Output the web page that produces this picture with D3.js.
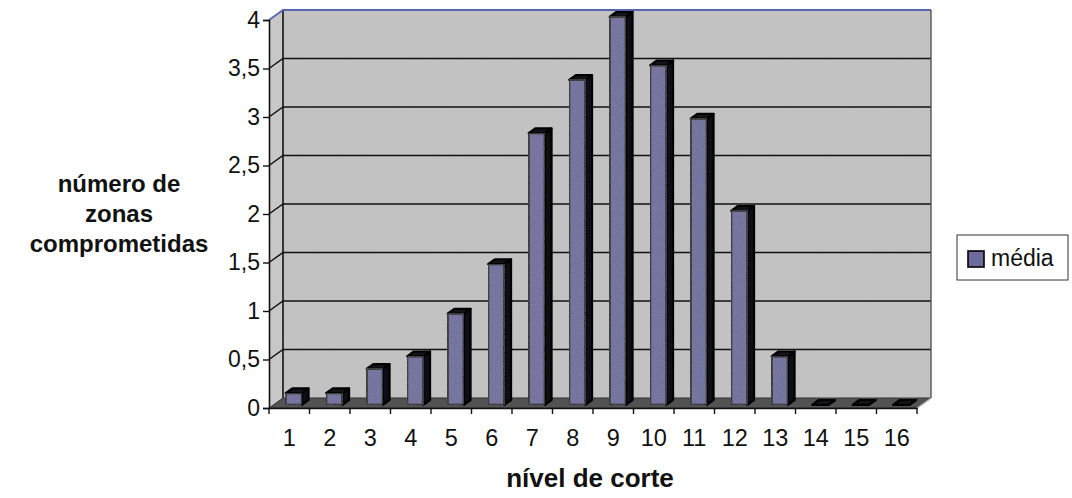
<!DOCTYPE html>
<html>
<head>
<meta charset="utf-8">
<script src="https://cdn.jsdelivr.net/npm/d3@7"></script>
<style>
  html, body { margin: 0; padding: 0; background: #fff; }
  svg { display: block; font-family: "Liberation Sans", Arial, sans-serif; }
</style>
</head>
<body>
<svg id="chart" width="1072" height="498"></svg>
<script>
// Mean number of affected zones per cut level
const categories = ["1","2","3","4","5","6","7","8","9","10","11","12","13","14","15","16"];
const media = [0.12, 0.12, 0.37, 0.5, 0.94, 1.45, 2.8, 3.35, 4, 3.5, 2.95, 2, 0.5, 0, 0, 0];
const yTicks = [0, 0.5, 1, 1.5, 2, 2.5, 3, 3.5, 4];
const seriesName = "média";

(function () {
const svg = d3.select("#chart");

// Front plane of the 3-D box and the depth offset to the back wall
const plotLeft = 269, plotRight = 917, plotBottom = 408, plotTop = 20;
const depthDX = 14, depthDY = -10;

const x = d3.scaleBand().domain(categories).range([plotLeft, plotRight]).paddingInner(0).paddingOuter(0);
const y = d3.scaleLinear().domain([0, 4]).range([plotBottom, plotTop]);

// project a point (px in front-plane x, value v, depth t: 0 = front, 1 = back)
const P = (px, v, t) => [px + depthDX * t, y(v) + depthDY * t];
const poly = pts => "M" + pts.map(p => p.join(",")).join("L") + "Z";
const line = pts => "M" + pts.map(p => p.join(",")).join("L");

const wallFill = "#c3c3c3";

// grain for the walls
const defs = svg.append("defs");
const grain = defs.append("filter").attr("id", "grain").attr("x", 0).attr("y", 0).attr("width", 1).attr("height", 1);
grain.append("feTurbulence").attr("type", "fractalNoise").attr("baseFrequency", 0.9).attr("numOctaves", 2).attr("seed", 3).attr("result", "n");
grain.append("feColorMatrix").attr("in", "n").attr("type", "matrix")
  .attr("values", "0 0 0 0 0.5  0 0 0 0 0.5  0 0 0 0 0.5  0 0 0 0.2 0").attr("result", "nc");
grain.append("feComposite").attr("in", "nc").attr("in2", "SourceGraphic").attr("operator", "in").attr("result", "nm");
grain.append("feMerge").selectAll("feMergeNode").data(["SourceGraphic", "nm"]).enter()
  .append("feMergeNode").attr("in", d => d);

const x0 = x.range()[0], x1 = x.range()[1];

// back wall
svg.append("path")
  .attr("d", poly([P(x0, 0, 1), P(x1, 0, 1), P(x1, 4, 1), P(x0, 4, 1)]))
  .attr("fill", wallFill).attr("filter", "url(#grain)");

// left side wall
svg.append("path")
  .attr("d", poly([P(x0, 0, 0), P(x0, 0, 1), P(x0, 4, 1), P(x0, 4, 0)]))
  .attr("fill", "#c9c9c9").attr("filter", "url(#grain)");

// gridlines: back wall + diagonal on the side wall
const grid = svg.append("g").attr("stroke", "#111").attr("stroke-width", 1.5).attr("fill", "none");
yTicks.filter(v => v > 0 && v < 4).forEach(v => {
  grid.append("path").attr("d", line([P(x0, v, 0), P(x0, v, 1), P(x1, v, 1)]));
});

// wall outlines
svg.append("path").attr("d", line([P(x0, 0, 1), P(x0, 4, 1)]))
  .attr("stroke", "#111").attr("stroke-width", 1.6);
svg.append("path").attr("d", line([P(x0, 4, 0), P(x0, 4, 1), P(x1, 4, 1)]))
  .attr("stroke", "#5865b0").attr("stroke-width", 1.8).attr("fill", "none");
svg.append("path").attr("d", line([P(x1, 4, 1), P(x1, 0, 1)]))
  .attr("stroke", "#555").attr("stroke-width", 1.4);

// floor
svg.append("path")
  .attr("d", poly([P(x0, 0, 0), P(x1, 0, 0), P(x1, 0, 1), P(x0, 0, 1)]))
  .attr("fill", "#525252").attr("stroke", "#333").attr("stroke-width", 1);
svg.append("path").attr("d", line([P(x1, 0, 0), P(x1, 0, 1)]))
  .attr("stroke", "#aaa").attr("stroke-width", 1.2);

// bars
const bw = x.bandwidth() * 0.4;
const t0 = 0.32, t1 = 0.8;
const bars = svg.append("g").attr("stroke", "#000").attr("stroke-width", 2.2).attr("stroke-linejoin", "round");
categories.forEach((c, i) => {
  const v = media[i];
  const cx = x(c) + x.bandwidth() / 2;
  const l = cx - bw / 2, r = cx + bw / 2;
  const g = bars.append("g");
  // right side
  g.append("path").attr("d", poly([P(r, 0, t0), P(r, v, t0), P(r, v, t1), P(r, 0, t1)])).attr("fill", "#0e0e16");
  // top
  g.append("path").attr("d", poly([P(l, v, t0), P(r, v, t0), P(r, v, t1), P(l, v, t1)])).attr("fill", "#13131c");
  // front
  if (v > 0) {
    g.append("path").attr("d", poly([P(l, 0, t0), P(r, 0, t0), P(r, v, t0), P(l, v, t0)]))
      .attr("fill", "#6b6b9c").attr("filter", "url(#grain)");
  }
});

// value axis on the front plane
const fmt = d3.formatLocale({ decimal: ",", thousands: ".", grouping: [3], currency: ["", ""] }).format("~g");
const yAxis = svg.append("g").attr("transform", `translate(${plotLeft},0)`)
  .call(d3.axisLeft(y).tickValues(yTicks).tickFormat(fmt).tickSize(6).tickPadding(3));
yAxis.select(".domain").attr("stroke", "#111").attr("stroke-width", 1.6);
yAxis.selectAll(".tick line").attr("stroke", "#111").attr("stroke-width", 1.4);
yAxis.selectAll(".tick text").attr("font-size", 23).attr("fill", "#111").attr("font-family", "Liberation Sans, Arial, sans-serif");

// category axis: labels centred in bands, ticks at band edges
const xAxis = svg.append("g").attr("transform", `translate(0,${plotBottom})`)
  .call(d3.axisBottom(x).tickSize(0).tickPadding(21));
xAxis.select(".domain").attr("stroke", "#111").attr("stroke-width", 1.6);
xAxis.selectAll(".tick text").attr("font-size", 23.5).attr("fill", "#111").attr("font-family", "Liberation Sans, Arial, sans-serif");
const edges = categories.map(c => x(c)).concat([x1]);
svg.append("g").selectAll("line").data(edges).enter().append("line")
  .attr("x1", d => d).attr("x2", d => d).attr("y1", plotBottom).attr("y2", plotBottom + 6)
  .attr("stroke", "#111").attr("stroke-width", 1.4);

// axis titles
const yTitle = svg.append("text").attr("text-anchor", "middle").attr("font-weight", "bold")
  .attr("font-size", 24).attr("fill", "#111");
["número de", "zonas", "comprometidas"].forEach((s, i) => {
  yTitle.append("tspan").attr("x", 119).attr("y", 192 + i * 30).text(s);
});
svg.append("text").attr("x", 590).attr("y", 487).attr("text-anchor", "middle")
  .attr("font-weight", "bold").attr("font-size", 26).attr("fill", "#111").text("nível de corte");

// legend
const lg = svg.append("g");
lg.append("rect").attr("x", 957).attr("y", 235).attr("width", 111).attr("height", 45)
  .attr("fill", "#fff").attr("stroke", "#333").attr("stroke-width", 1);
lg.append("rect").attr("x", 968).attr("y", 251).attr("width", 16).attr("height", 16)
  .attr("fill", "#6b6b9c").attr("stroke", "#000").attr("stroke-width", 1.6);
lg.append("text").attr("x", 991).attr("y", 266).attr("font-size", 23).attr("fill", "#111").text(seriesName);
})();
</script>
</body>
</html>
